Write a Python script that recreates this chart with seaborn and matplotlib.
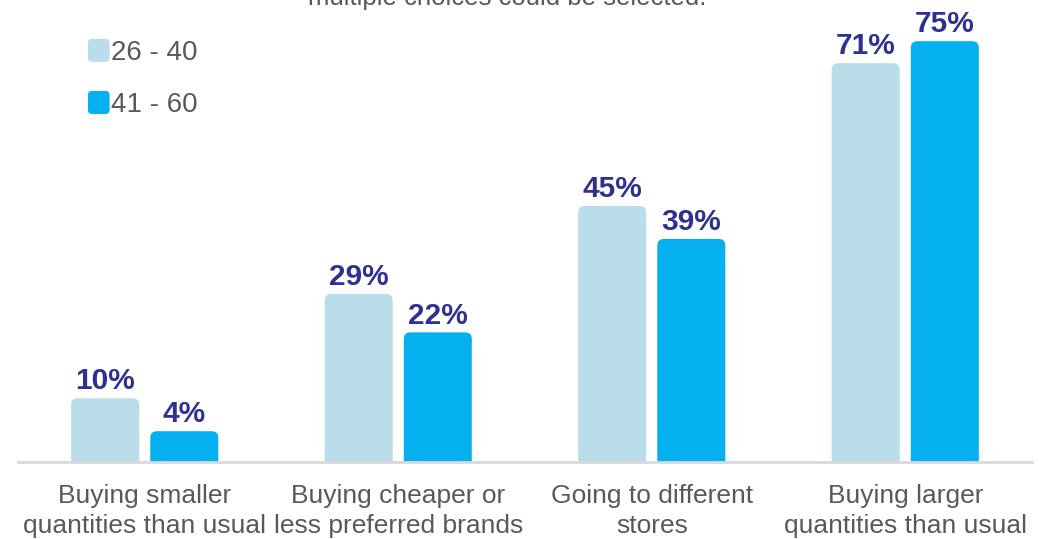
import numpy as np
import pandas as pd
from matplotlib import pyplot as plt
from matplotlib.patches import FancyBboxPatch, Rectangle
from matplotlib.legend_handler import HandlerPatch
import seaborn as sns

# data
categories = ["Buying smaller\nquantities than usual",
              "Buying cheaper or\nless preferred brands",
              "Going to different\nstores",
              "Buying larger\nquantities than usual"]
age_groups = ["26 - 40", "41 - 60"]
share_26_40 = [10, 29, 45, 71]
share_41_60 = [4, 22, 39, 75]
subtitle = "multiple choices could be selected."

colors = ["#B9DDE9", "#05B0EE"]
navy = "#2E3192"
grey = "#595959"

df = pd.DataFrame({
    "category": categories * 2,
    "age": [age_groups[0]] * 4 + [age_groups[1]] * 4,
    "share": share_26_40 + share_41_60,
})


class RoundHandler(HandlerPatch):
    def create_artists(self, legend, orig_handle, xdescent, ydescent,
                       width, height, fontsize, trans):
        p = FancyBboxPatch((-xdescent, -ydescent), width, height,
                           boxstyle="round,pad=0,rounding_size=3",
                           facecolor=orig_handle.get_facecolor(),
                           edgecolor="none", transform=trans)
        return [p]


sns.set_theme(style="white")
plt.rcParams["font.family"] = ["Liberation Sans", "DejaVu Sans"]

fig = plt.figure(figsize=(10.51, 5.39), dpi=100)
ax = fig.add_axes([18 / 1051, 77 / 539, (1032 - 18) / 1051, 462 / 539])

sns.barplot(data=df, x="category", y="share", hue="age", order=categories,
            hue_order=age_groups, palette=colors, width=0.624, gap=0.14,
            saturation=1, ax=ax, legend=True)

ymin, ymax = -1.6, 82.5
ax.set_xlim(-0.5, 3.5)
ax.set_ylim(ymin, ymax)

for cont in ax.containers:
    ax.bar_label(cont, fmt="{:.0f}%", padding=2, color=navy,
                 fontsize=21.5, fontweight="bold")

# rounded tops: swap rectangles for fancy boxes that start below the axis
for cont in ax.containers:
    for rect in cont:
        x, w = rect.get_x(), rect.get_width()
        top = rect.get_y() + rect.get_height()
        bottom = ymin - 4
        box = FancyBboxPatch((x, bottom), w, top - bottom,
                             boxstyle="round,pad=0,rounding_size=0.026",
                             mutation_aspect=1.2 / 0.026,
                             facecolor=rect.get_facecolor(), edgecolor="none",
                             clip_on=True)
        rect.set_visible(False)
        ax.add_patch(box)

for s in ["top", "right", "left"]:
    ax.spines[s].set_visible(False)
ax.spines["bottom"].set_color("#D9D9D9")
ax.spines["bottom"].set_linewidth(2)
ax.set_yticks([])
ax.set_xlabel("")
ax.set_ylabel("")
ax.tick_params(axis="x", length=0, pad=16, labelsize=19, labelcolor=grey)
for t in ax.get_xticklabels():
    t.set_linespacing(1.28)

handles, labels = ax.get_legend_handles_labels()
leg = ax.legend(handles, labels, loc="upper left", bbox_to_anchor=(0.058, 0.94),
                frameon=False, fontsize=20, handlelength=0.78, handleheight=0.9,
                handletextpad=0.05, labelspacing=0.9, borderaxespad=0,
                handler_map={Rectangle: RoundHandler()})
for txt in leg.get_texts():
    txt.set_color(grey)

fig.text(0.483, 1 - 5 / 539, subtitle, ha="center", va="baseline",
         fontsize=18.5, color=grey)

plt.savefig("out.png", dpi=100)
